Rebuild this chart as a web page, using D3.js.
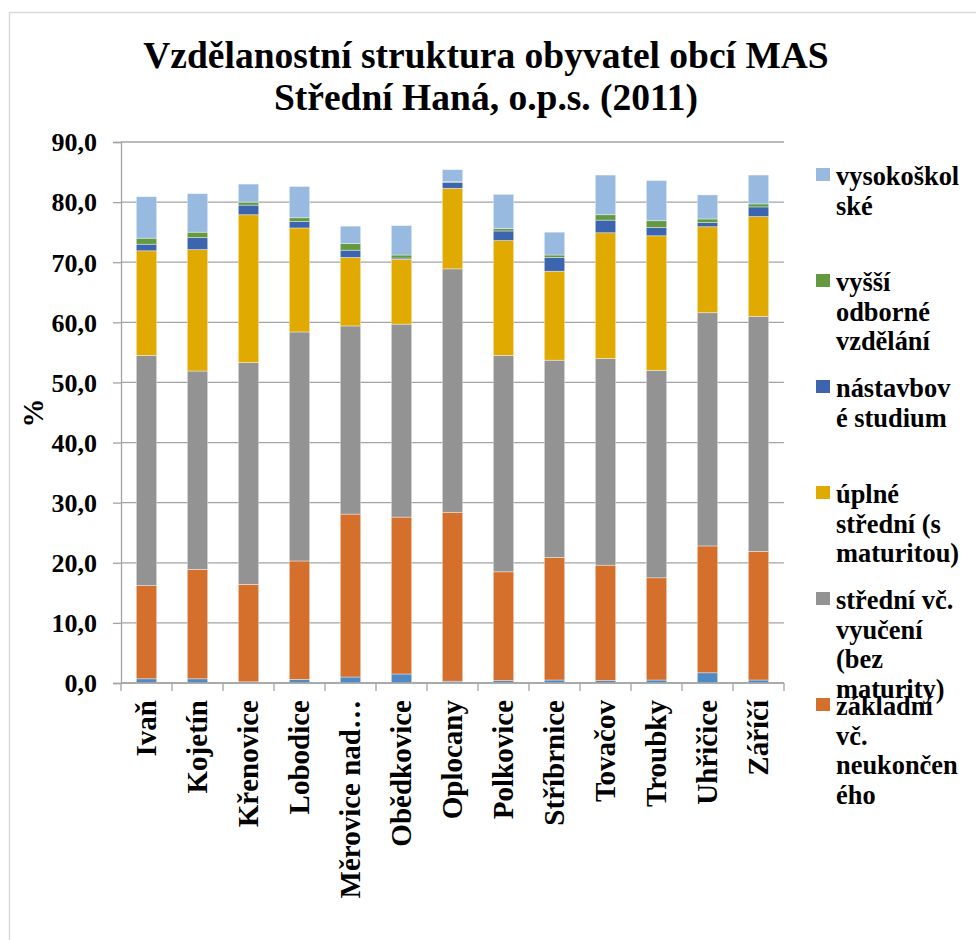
<!DOCTYPE html>
<html>
<head>
<meta charset="utf-8">
<script src="https://cdn.jsdelivr.net/npm/d3@7"></script>
<style>
    body { margin: 0; background: #fff; }
</style>
</head>
<body>
<svg id="eduGraph" width="976" height="940"></svg>
<script>
// data (percent of residents)
const categories = ["Ivaň", "Kojetín", "Křenovice", "Lobodice", "Měrovice nad…", "Obědkovice", "Oplocany",
    "Polkovice", "Stříbrnice", "Tovačov", "Troubky", "Uhřičice", "Záříčí"];
const bezVzdelani = [0.7, 0.7, 0.2, 0.6, 1.0, 1.5, 0.3, 0.4, 0.5, 0.4, 0.5, 1.7, 0.5];
const zakladni = [15.5, 18.2, 16.2, 19.7, 27.1, 26.1, 28.1, 18.1, 20.4, 19.2, 17.0, 21.1, 21.4];
const stredniVyuceni = [38.3, 33.0, 36.9, 38.1, 31.3, 32.1, 40.5, 36.0, 32.8, 34.4, 34.5, 38.8, 39.1];
const uplneStredni = [17.4, 20.2, 24.6, 17.3, 11.4, 10.8, 13.4, 19.1, 14.8, 20.9, 22.4, 14.3, 16.6];
const nastavbove = [1.1, 2.0, 1.6, 1.1, 1.2, 0.2, 1.0, 1.6, 2.3, 2.1, 1.4, 0.7, 1.6];
const vyssiOdborne = [1.0, 0.9, 0.5, 0.6, 1.1, 0.5, 0.1, 0.4, 0.4, 0.9, 1.1, 0.6, 0.5];
const vysokoskolske = [6.9, 6.4, 3.0, 5.2, 2.9, 4.9, 2.0, 5.7, 3.8, 6.6, 6.7, 4.0, 4.8];

const seriesKeys = ["bez", "zakl", "vyuc", "upl", "nast", "vos", "vs"];
const seriesNames = ["bez vzdělání", "základní vč. neukončeného", "střední vč. vyučení (bez maturity)",
    "úplné střední (s maturitou)", "nástavbové studium", "vyšší odborné vzdělání", "vysokoškolské"];
const seriesColors = ["#4f8ac4", "#d46f2c", "#939393", "#e0aa00", "#3d64ae", "#639a40", "#98bae0"];

// legend as shown (wrapped text, top entry first); first series has no visible entry
const legendKeys = ["vs", "vos", "nast", "upl", "vyuc", "zakl"];
const legendLines = [
    ["vysokoškol", "ské"],
    ["vyšší", "odborné", "vzdělání"],
    ["nástavbov", "é studium"],
    ["úplné", "střední (s", "maturitou)"],
    ["střední vč.", "vyučení", "(bez", "maturity)"],
    ["základní", "vč.", "neukončen", "ého"]
];

const yTicks = [0, 10, 20, 30, 40, 50, 60, 70, 80, 90];
const titleLines = ["Vzdělanostní struktura obyvatel obcí MAS", "Střední Haná, o.p.s. (2011)"];

// build table for d3.stack
const valueLists = [bezVzdelani, zakladni, stredniVyuceni, uplneStredni, nastavbove, vyssiOdborne, vysokoskolske];
const table = categories.map((c, i) => {
    const row = { obec: c };
    seriesKeys.forEach((k, s) => row[k] = valueLists[s][i]);
    return row;
});

const serif = '"Liberation Serif", "Times New Roman", "DejaVu Serif", serif';
const plotLeft = 121, plotRight = 784, plotTop = 142, plotBottom = 683;

const svg = d3.select("#eduGraph")
    .style("font-family", serif)
    .style("font-weight", "bold");

// outer chart frame
svg.append("rect")
    .attr("x", 9.5)
    .attr("y", 12.5)
    .attr("width", 1000)
    .attr("height", 1000)
    .attr("fill", "#fff")
    .attr("stroke", "#d9d9d9")
    .attr("stroke-width", 1.5);

const xScale = d3.scaleBand()
    .domain(categories)
    .range([plotLeft, plotRight])
    .paddingInner(0.6)
    .paddingOuter(0.3);

const yScale = d3.scaleLinear().domain([0, 90]).range([plotBottom, plotTop]);

const color = d3.scaleOrdinal().domain(seriesKeys).range(seriesColors);

// gridlines
svg.append("g")
    .selectAll("line")
    .data(yTicks)
    .enter()
    .append("line")
    .attr("x1", plotLeft)
    .attr("x2", plotRight)
    .attr("y1", d => yScale(d))
    .attr("y2", d => yScale(d))
    .attr("stroke", "#a3a3a3")
    .attr("stroke-width", 1.3);

// stacked bars
const stacked = d3.stack().keys(seriesKeys)(table);

svg.append("g")
    .selectAll("g")
    .data(stacked)
    .enter()
    .append("g")
    .attr("fill", d => color(d.key))
    .selectAll("rect")
    .data(d => d)
    .enter()
    .append("rect")
    .attr("x", d => xScale(d.data.obec))
    .attr("y", d => yScale(d[1]))
    .attr("height", d => yScale(d[0]) - yScale(d[1]))
    .attr("width", xScale.bandwidth())
    .attr("stroke", "#fff")
    .attr("stroke-opacity", 0.55)
    .attr("stroke-width", 0.7);

// y axis
const yAxis = svg.append("g")
    .attr("transform", `translate(${plotLeft},0)`)
    .call(d3.axisLeft(yScale)
        .tickValues(yTicks)
        .tickSize(8)
        .tickPadding(16)
        .tickFormat(d => d3.format(".1f")(d).replace(".", ",")));
yAxis.select(".domain").attr("stroke", "#a3a3a3").attr("stroke-width", 1.3);
yAxis.selectAll(".tick line").attr("stroke", "#a3a3a3").attr("stroke-width", 1.3);
yAxis.selectAll(".tick text")
    .style("font-family", serif)
    .style("font-weight", "bold")
    .style("font-size", "26px")
    .attr("fill", "#000")
    .attr("dy", "0.34em");

// x axis line and category ticks
svg.append("line")
    .attr("x1", plotLeft)
    .attr("x2", plotRight)
    .attr("y1", plotBottom)
    .attr("y2", plotBottom)
    .attr("stroke", "#a3a3a3")
    .attr("stroke-width", 1.3);

svg.append("g")
    .selectAll("line")
    .data(d3.range(categories.length + 1))
    .enter()
    .append("line")
    .attr("x1", i => plotLeft + i * xScale.step())
    .attr("x2", i => plotLeft + i * xScale.step())
    .attr("y1", plotBottom)
    .attr("y2", plotBottom + 8)
    .attr("stroke", "#a3a3a3")
    .attr("stroke-width", 1.3);

// category labels, rotated
svg.append("g")
    .selectAll("text")
    .data(categories)
    .enter()
    .append("text")
    .attr("transform", d => `translate(${xScale(d) + xScale.bandwidth() / 2},700) rotate(-90)`)
    .attr("text-anchor", "end")
    .attr("dy", "0.33em")
    .style("font-family", serif)
    .style("font-size", "29px")
    .text(d => d);

// y axis title
svg.append("text")
    .attr("transform", "translate(33,413) rotate(-90)")
    .attr("text-anchor", "middle")
    .attr("dy", "0.35em")
    .style("font-family", serif)
    .style("font-size", "29px")
    .text("%");

// chart title
svg.append("g")
    .selectAll("text")
    .data(titleLines)
    .enter()
    .append("text")
    .attr("x", 486)
    .attr("y", (d, i) => 68 + i * 42)
    .attr("text-anchor", "middle")
    .style("font-family", serif)
    .style("font-size", "37.5px")
    .text(d => d);

// legend
const legend = svg.append("g")
    .selectAll("g")
    .data(legendKeys)
    .enter()
    .append("g")
    .attr("transform", (d, i) => `translate(816,${185 + i * 106})`);

legend.append("rect")
    .attr("x", 0)
    .attr("y", -17)
    .attr("width", 14)
    .attr("height", 13)
    .attr("fill", d => color(d));

legend.append("text")
    .style("font-family", serif)
    .style("font-size", "26.4px")
    .selectAll("tspan")
    .data((d, i) => legendLines[i])
    .enter()
    .append("tspan")
    .attr("x", 20)
    .attr("y", (d, j) => j * 29.7)
    .text(d => d);
</script>
</body>
</html>
